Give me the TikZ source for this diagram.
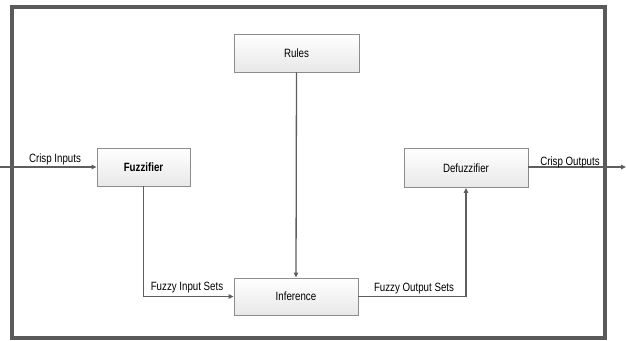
\documentclass[tikz,border=0pt]{standalone}
\usepackage{fontspec}
\setmainfont[FakeStretch=0.81]{Liberation Sans}
\usetikzlibrary{arrows.meta}
\definecolor{frameg}{HTML}{5A5A5A}
\definecolor{lineg}{HTML}{5E5E5E}
\definecolor{boxg}{HTML}{8C8C8C}
\tikzset{
  blk/.style={draw=boxg, line width=0.9pt, top color=white, bottom color=black!9, minimum height=38pt, inner sep=0pt, font=\fontsize{12}{14}\selectfont},
  conn/.style={draw=lineg, line width=1.3pt, -{Triangle[length=5pt,width=4.5pt]}},
  lbl/.style={font=\fontsize{12}{14}\selectfont, inner sep=1pt}
}
\begin{document}
\begin{tikzpicture}[x=1pt,y=-1pt]
\useasboundingbox (0,0) rectangle (626,340);
\draw[frameg, line width=3.2pt] (12,7) rectangle (605,338);
\node[blk, minimum width=125pt] (rules) at (296.5,53) {Rules};
\node[blk, minimum width=93pt] (fuzz) at (143.5,167) {\bfseries Fuzzifier};
\node[blk, minimum width=124pt, minimum height=37pt] (inf) at (296,296.5) {Inference};
\node[blk, minimum width=124pt, minimum height=39pt] (defuzz) at (466,168) {Defuzzifier};
\coordinate (inL) at (0,167);
\coordinate (outR) at (626,167);
\draw[conn] (inL) -- (fuzz.west |- inL);
\node[lbl] (ci) at (55,159.5) {Crisp Inputs};
\draw[conn] (defuzz.east |- outR) -- (outR);
\node[lbl] (co) at (570,162) {Crisp Outputs};
\draw[conn] (fuzz.south) |- (inf.west);
\node[lbl] (fis) at (187,287.5) {Fuzzy Input Sets};
\draw[conn] (rules.south) -- (inf.north);
\draw[conn] (inf.east) -| (defuzz.south);
\node[lbl] (fos) at (414,288.5) {Fuzzy Output Sets};
\end{tikzpicture}
\end{document}
